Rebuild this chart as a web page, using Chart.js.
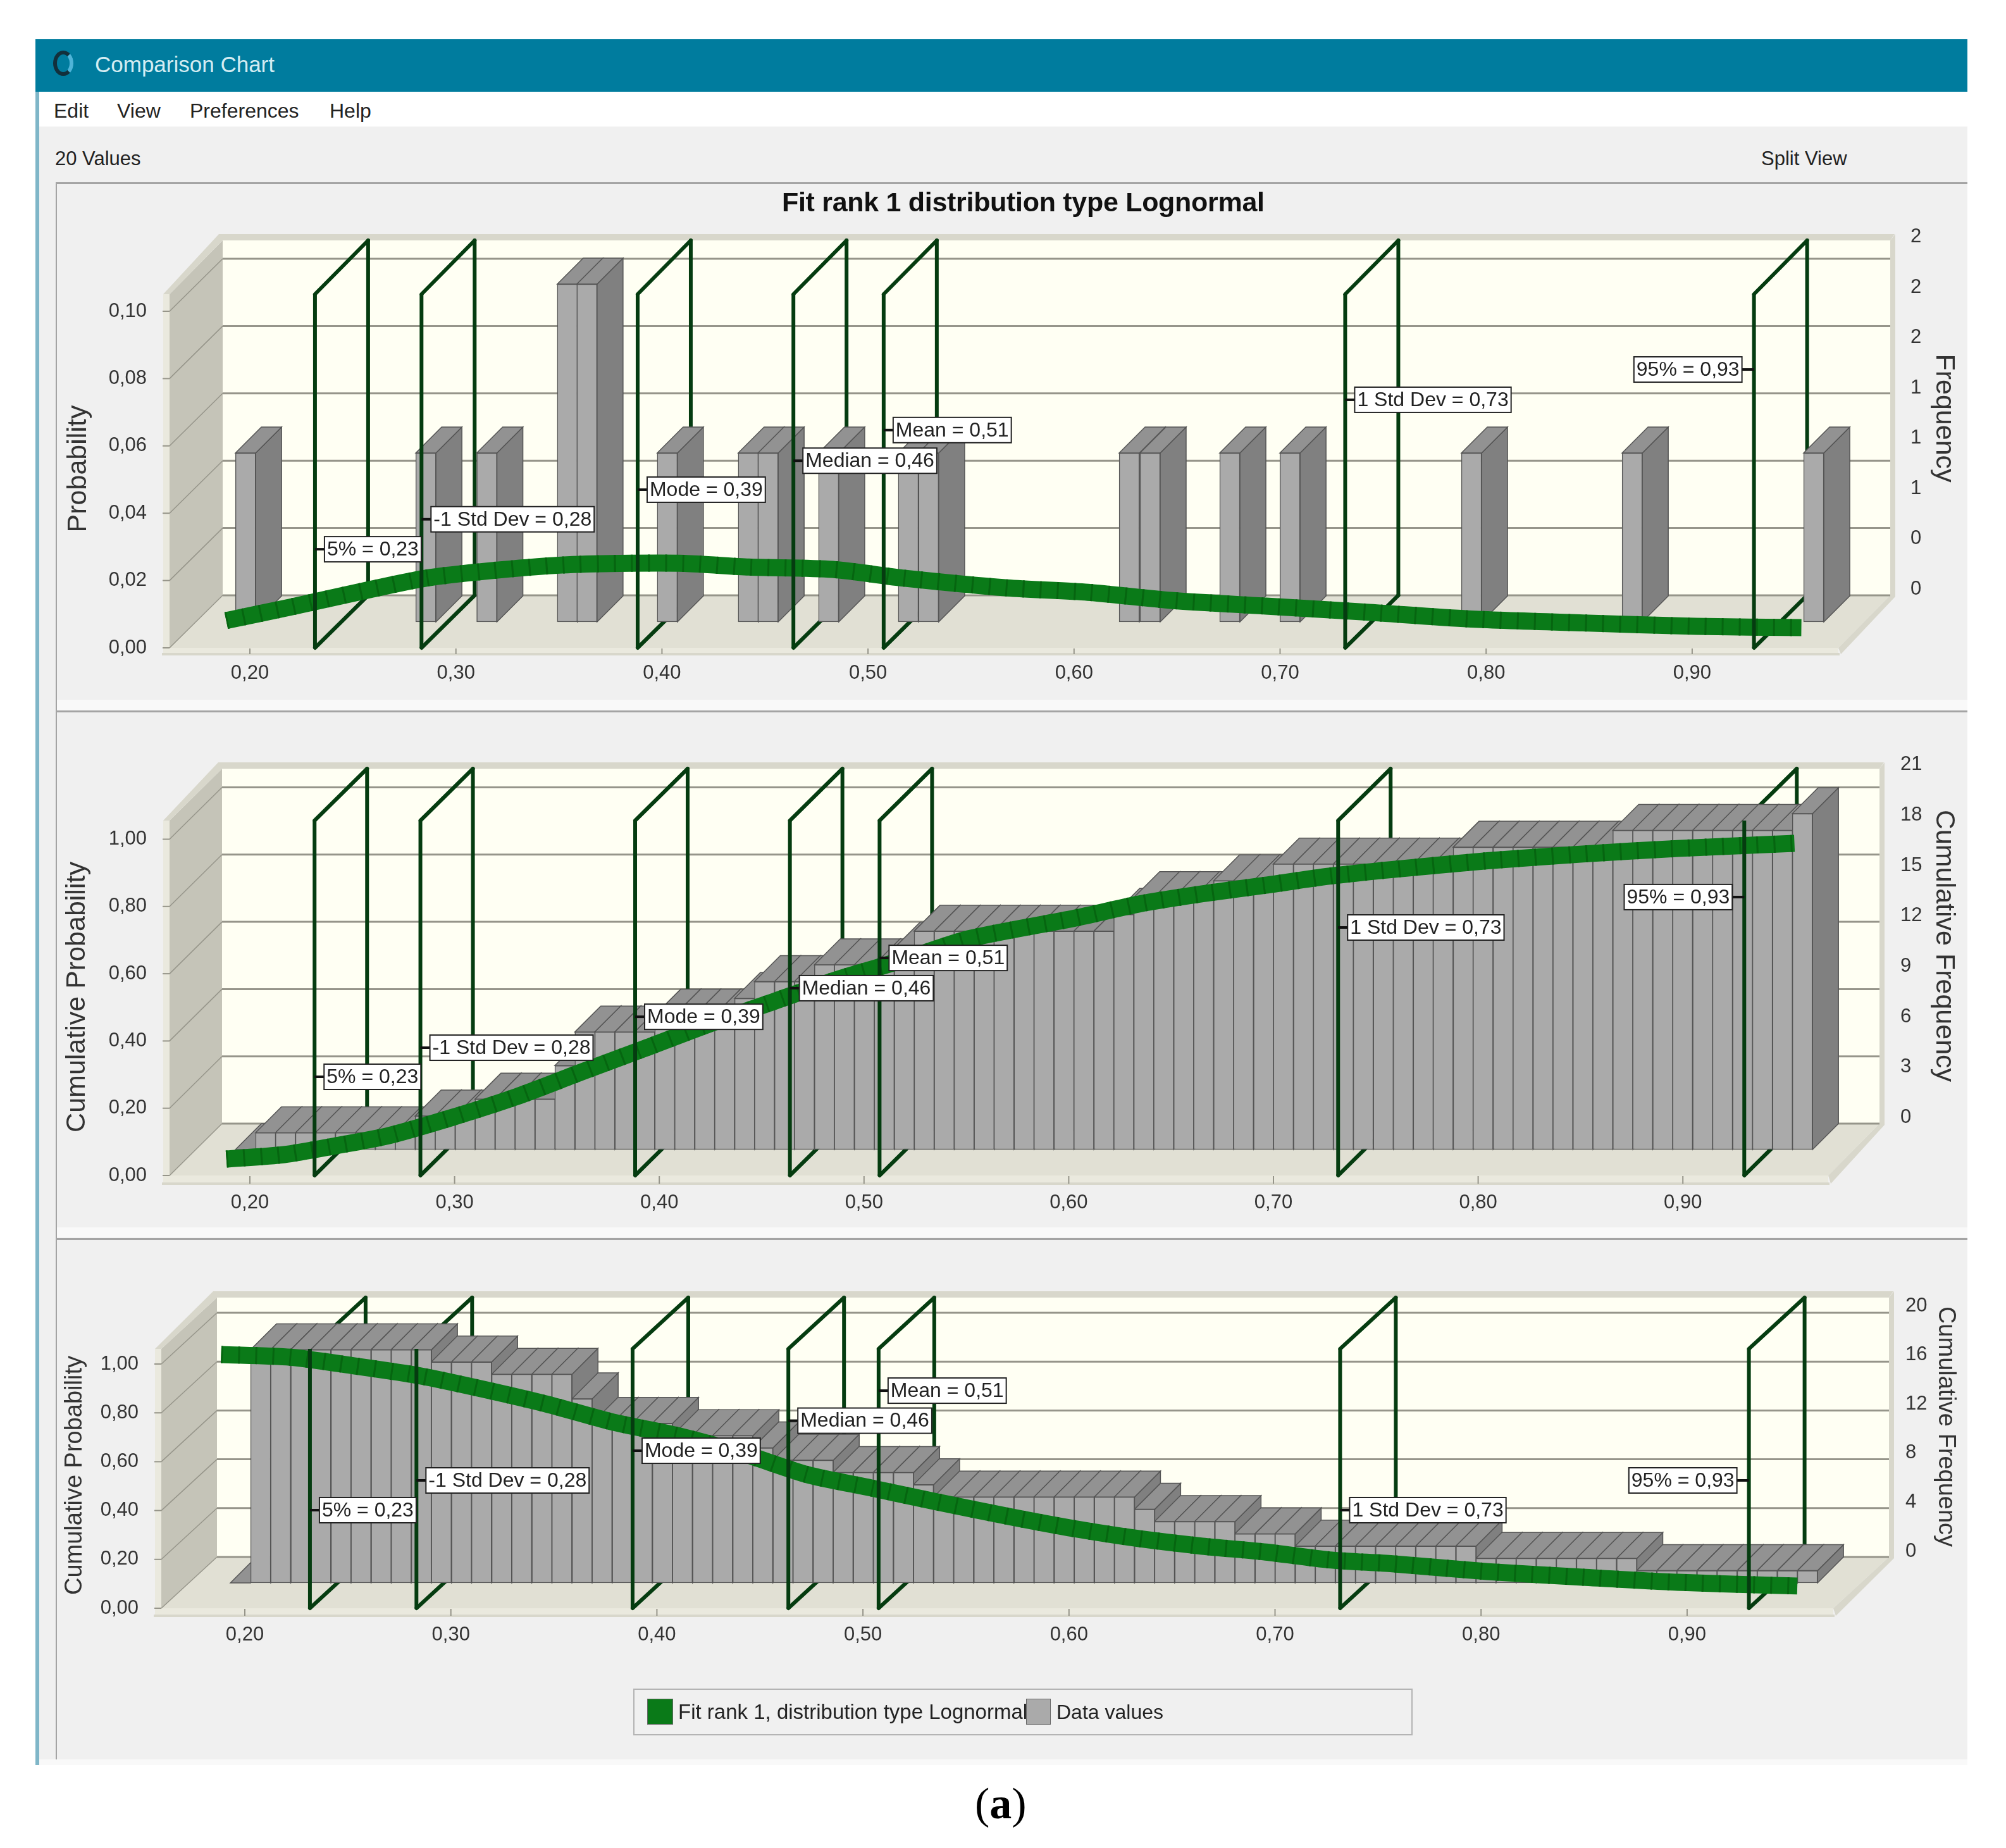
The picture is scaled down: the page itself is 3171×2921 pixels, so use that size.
<!DOCTYPE html>
<html>
<head>
<meta charset="utf-8">
<title>Comparison Chart</title>
<script src="https://cdn.jsdelivr.net/npm/chart.js@4/dist/chart.umd.js"></script>
<style>
  html, body { margin: 0; padding: 0; background: #fff; }
  #page { position: relative; width: 3171px; height: 2921px; overflow: hidden; font-family: 'Liberation Sans', sans-serif; color: #222; }
  #page > div, #page > canvas { position: absolute; }
  .txt { white-space: nowrap; line-height: 1; }
  .rule { background: #a4a4a4; }
  .band { background: #f9f9f9; }
</style>
</head>
<body>
<div id="page">
  <div style="left:56px;top:200px;width:3054px;height:2590px;background:#f0f0f0"></div>
  <div style="left:56px;top:62px;width:3054px;height:83px;background:#007c9e"></div>
  <div style="left:56px;top:145px;width:6px;height:2645px;background:#7fb6c8"></div>
  <div style="left:84px;top:80px;width:32px;height:40px;border-radius:50%;border:6px solid #12303c;border-right-color:#4fb4d8;box-sizing:border-box"></div>
  <div class="txt" style="left:150px;top:84px;font-size:35px;color:#d4ecf2">Comparison Chart</div>
  <div class="txt" style="left:85px;top:159px;font-size:32px">Edit</div>
  <div class="txt" style="left:185px;top:159px;font-size:32px">View</div>
  <div class="txt" style="left:300px;top:159px;font-size:32px">Preferences</div>
  <div class="txt" style="left:521px;top:159px;font-size:32px">Help</div>
  <div class="txt" style="left:87px;top:235px;font-size:31px">20 Values</div>
  <div class="txt" style="left:2784px;top:235px;font-size:31px">Split View</div>
  <div class="band" style="left:62px;top:2781px;width:3048px;height:9px"></div>
  <div class="band" style="left:88px;top:1106px;width:3022px;height:16px"></div>
  <div class="band" style="left:88px;top:1940px;width:3022px;height:16px"></div>
  <div class="rule" style="left:88px;top:288px;width:3022px;height:3px"></div>
  <div class="rule" style="left:88px;top:1123px;width:3022px;height:3px"></div>
  <div class="rule" style="left:88px;top:1957px;width:3022px;height:3px"></div>
  <div class="rule" style="left:88px;top:288px;width:2px;height:2493px"></div>
  <canvas id="panelPdf"></canvas>
  <canvas id="panelCdf"></canvas>
  <canvas id="panelSf"></canvas>
  <div class="txt" style="left:1236px;top:298px;font-size:43px;font-weight:700;color:#111;letter-spacing:-0.3px">Fit rank 1 distribution type Lognormal</div>
  <div style="left:1001px;top:2669px;width:1232px;height:74px;border:2px solid #b4b4b4;box-sizing:border-box"></div>
  <div style="left:1023px;top:2685px;width:41px;height:41px;background:#0a7a18;border:1px solid #666;box-sizing:border-box"></div>
  <div class="txt" style="left:1072px;top:2689px;font-size:33px">Fit rank 1, distribution type Lognormal</div>
  <div style="left:1622px;top:2685px;width:39px;height:41px;background:#aaa;border:1px solid #666;box-sizing:border-box"></div>
  <div class="txt" style="left:1670px;top:2690px;font-size:32px">Data values</div>
  <div class="txt" style="left:1541px;top:2816px;font-size:70px;font-family:'Liberation Serif',serif;color:#000">(<b>a</b>)</div>
</div>
<script>
// axis ticks
const xTicks = [0.2, 0.3, 0.4, 0.5, 0.6, 0.7, 0.8, 0.9];
const pdfTicks = [0, 0.02, 0.04, 0.06, 0.08, 0.1];
const cumTicks = [0, 0.2, 0.4, 0.6, 0.8, 1];
const freqTicks = [0, 0.3, 0.6, 0.9, 1.2, 1.5, 1.8, 2.1];
const cumFreqTicks = [0, 3, 6, 9, 12, 15, 18, 21];
const revFreqTicks = [0, 4, 8, 12, 16, 20];

// histogram bars, top panel
const histX = [0.1979, 0.2854, 0.315, 0.3541, 0.3636, 0.4026, 0.4419, 0.4515, 0.4809, 0.5196, 0.5294, 0.6268, 0.6369, 0.6756, 0.7048, 0.7929, 0.8709, 0.959];
const histY = [1, 1, 1, 2, 2, 1, 1, 1, 1, 1, 1, 1, 1, 1, 1, 1, 1, 1];

// bins of the cumulative panels
const binX = [
  0.1979, 0.2077, 0.2174, 0.2272, 0.2369, 0.2467, 0.2564, 0.2662, 0.2759, 0.2857,
  0.2954, 0.3052, 0.3149, 0.3247, 0.3344, 0.3442, 0.3539, 0.3637, 0.3734, 0.3832,
  0.3929, 0.4027, 0.4124, 0.4222, 0.4319, 0.4417, 0.4514, 0.4612, 0.4709, 0.4807,
  0.4904, 0.5002, 0.5099, 0.5197, 0.5294, 0.5392, 0.5489, 0.5587, 0.5684, 0.5782,
  0.5879, 0.5977, 0.6074, 0.6172, 0.6269, 0.6367, 0.6464, 0.6562, 0.6659, 0.6757,
  0.6854, 0.6952, 0.7049, 0.7147, 0.7244, 0.7342, 0.7439, 0.7537, 0.7634, 0.7732,
  0.7829, 0.7927, 0.8024, 0.8122, 0.8219, 0.8317, 0.8414, 0.8512, 0.8609, 0.8707,
  0.8804, 0.8902, 0.8999, 0.9097, 0.9194, 0.9292, 0.9389, 0.9487, 0.9584,
];
const cumY = [
  0, 1, 1, 1, 1, 1, 1, 1, 1, 2,
  2, 2, 3, 3, 3, 3, 5, 7, 7, 7,
  7, 8, 8, 8, 8, 9, 10, 10, 10, 11,
  11, 11, 11, 12, 13, 13, 13, 13, 13, 13,
  13, 13, 13, 13, 14, 15, 15, 15, 15, 16,
  16, 16, 17, 17, 17, 17, 17, 17, 17, 17,
  17, 18, 18, 18, 18, 18, 18, 18, 18, 19,
  19, 19, 19, 19, 19, 19, 19, 19, 20,
];
const revY = [
  0, 19, 19, 19, 19, 19, 19, 19, 19, 19,
  18, 18, 18, 17, 17, 17, 17, 15, 13, 13,
  13, 13, 12, 12, 12, 12, 11, 10, 10, 10,
  9, 9, 9, 9, 8, 7, 7, 7, 7, 7,
  7, 7, 7, 7, 7, 6, 5, 5, 5, 5,
  4, 4, 4, 3, 3, 3, 3, 3, 3, 3,
  3, 3, 2, 2, 2, 2, 2, 2, 2, 2,
  1, 1, 1, 1, 1, 1, 1, 1, 1,
];

// fitted lognormal curves
const pdfX = [0.1885, 0.2197, 0.2574, 0.2854, 0.3167, 0.3514, 0.3796, 0.4109, 0.4422, 0.4828, 0.5175, 0.5675, 0.6068, 0.6469, 0.6931, 0.7422, 0.7913, 0.8469, 0.9022, 0.953];
const pdfY = [0.0081, 0.0121, 0.0172, 0.0207, 0.0229, 0.0246, 0.0251, 0.0251, 0.024, 0.0233, 0.0207, 0.0178, 0.0165, 0.0141, 0.0124, 0.0106, 0.0086, 0.0074, 0.0064, 0.006];
const cdfX = [0.1885, 0.2167, 0.242, 0.2671, 0.2986, 0.3301, 0.3616, 0.3931, 0.4247, 0.4562, 0.488, 0.5195, 0.551, 0.6033, 0.6342, 0.6653, 0.6963, 0.7272, 0.7581, 0.8046, 0.8511, 0.8975, 0.9545];
const cdfY = [0.0489, 0.0621, 0.0884, 0.1174, 0.1722, 0.234, 0.3067, 0.3785, 0.4512, 0.518, 0.585, 0.6416, 0.7037, 0.7657, 0.8072, 0.8377, 0.8633, 0.89, 0.91, 0.936, 0.956, 0.9725, 0.9877];
const sfX = [0.1885, 0.2221, 0.2534, 0.2847, 0.3161, 0.3474, 0.3787, 0.41, 0.4413, 0.473, 0.5043, 0.5356, 0.5724, 0.6031, 0.6338, 0.6647, 0.6956, 0.7262, 0.757, 0.8032, 0.8494, 0.8955, 0.9535];
const sfY = [1.039, 1.028, 0.992, 0.952, 0.896, 0.834, 0.762, 0.707, 0.635, 0.547, 0.492, 0.436, 0.373, 0.325, 0.285, 0.254, 0.23, 0.198, 0.182, 0.15, 0.127, 0.106, 0.091];

// marker frames
const markerX = [0.2316, 0.2833, 0.3882, 0.4638, 0.5076, 0.7316, 0.93];
const markerText = ['5% = 0,23', '-1 Std Dev = 0,28', 'Mode = 0,39', 'Median = 0,46', 'Mean = 0,51', '1 Std Dev = 0,73', '95% = 0,93'];
const pdfLabelY = [0.0293, 0.0382, 0.047, 0.0556, 0.0647, 0.0737, 0.0827];
const cdfLabelY = [0.2935, 0.38, 0.472, 0.557, 0.647, 0.7375, 0.828];
const sfLabelY = [0.4016, 0.5233, 0.645, 0.768, 0.891, 0.4016, 0.5233];

const COLORS = {
  backWall: '#fffff3',
  sideWall: '#c5c4b8',
  floor: '#e1e0d4',
  rim: '#d8d7cb',
  slab: '#eae9de',
  grid: '#96958a',
  barFront: '#aaaaaa',
  barSide: '#808080',
  barTop: '#929292',
  barEdge: '#555555',
  curve: '#0a7a18',
  curveDark: '#066510',
  marker: '#053c10',
  text: '#333333',
};
const FONT = 'Liberation Sans';
const PAGE_W = 3171;

// pixel calibration of each panel (window coordinates)
const PDF_LAYOUT = {
  canvas: 'panelPdf', canvasTop: 289, canvasH: 825,
  left: 268, right: 2988, top: 370, bottom: 1034, frontRight: 2906,
  backTop: 380, wallTop: 465, depthX: 84, depthY: 83,
  xPx: 395, xPer: 3257, probPx: 1024, probPer: 5320, barPx: 983, barPer: 267, freqPx: 931, freqPer: 265,
  leftTitle: 'Probability', leftX: 124, leftY: 741, rightTitle: 'Frequency', rightX: 3073, rightY: 661, titleSize: 43,
  rightPad: 24,
};
const CDF_LAYOUT = {
  canvas: 'panelCdf', canvasTop: 1124, canvasH: 821,
  left: 268, right: 2971, top: 1200, bottom: 1871, frontRight: 2890,
  backTop: 1215, wallTop: 1297, depthX: 83, depthY: 82,
  xPx: 395, xPer: 3236, probPx: 1858, probPer: 531.5, barPx: 1817, barPer: 26.55, freqPx: 1766.5, freqPer: 26.56,
  leftTitle: 'Cumulative Probability', leftX: 122, leftY: 1576, rightTitle: 'Cumulative Frequency', rightX: 3073, rightY: 1495, titleSize: 43,
  rightPad: 25,
};
const SF_LAYOUT = {
  canvas: 'panelSf', canvasTop: 1958, canvasH: 823,
  left: 255, right: 2986, top: 2040, bottom: 2554, frontRight: 2898,
  backTop: 2051, wallTop: 2132, depthX: 88, depthY: 81,
  xPx: 387, xPer: 3257, probPx: 2542, probPer: 386, barPx: 2502, barPer: 19.4, freqPx: 2452, freqPer: 19.4,
  leftTitle: 'Cumulative Probability', leftX: 119, leftY: 2332, rightTitle: 'Cumulative Frequency', rightX: 3075, rightY: 2255, titleSize: 38,
  rightPad: 18,
};

function poly(ctx, pts, fill, stroke, width) {
  ctx.beginPath();
  pts.forEach((p, i) => (i ? ctx.lineTo(p[0], p[1]) : ctx.moveTo(p[0], p[1])));
  ctx.closePath();
  if (fill) { ctx.fillStyle = fill; ctx.fill(); }
  if (stroke) { ctx.strokeStyle = stroke; ctx.lineWidth = width || 1; ctx.stroke(); }
}

function seg(ctx, x0, y0, x1, y1, color, width) {
  ctx.beginPath();
  ctx.moveTo(x0, y0);
  ctx.lineTo(x1, y1);
  ctx.strokeStyle = color;
  ctx.lineWidth = width;
  ctx.stroke();
}

function rotated(ctx, text, x, y, angle, size) {
  ctx.save();
  ctx.translate(x, y);
  ctx.rotate(angle);
  ctx.font = size + 'px "' + FONT + '"';
  ctx.fillStyle = COLORS.text;
  ctx.textAlign = 'center';
  ctx.textBaseline = 'middle';
  ctx.fillText(text, 0, 0);
  ctx.restore();
}

// walls, floor and back grid of the fake 3D box
function depthPlugin(layout, ticks, labelY) {
  const off = layout.canvasTop;
  const dx = layout.depthX;
  const dy = layout.depthY;
  return {
    id: 'depthBox',
    beforeDatasetsDraw(chart) {
      const { ctx, scales } = chart;
      const floorY = scales.y.getPixelForValue(0);
      const L = layout.left;
      const R = layout.right;
      const FR = layout.frontRight;
      const backL = L + dx;
      const backTop = layout.backTop - off;
      const wallTop = layout.wallTop - off;
      const axisY = layout.bottom - off;
      ctx.save();
      ctx.fillStyle = COLORS.backWall;
      ctx.fillRect(backL, backTop, R - backL, floorY - dy - backTop);
      poly(ctx, [[L, wallTop], [backL, backTop], [backL, floorY - dy], [L, floorY]], COLORS.sideWall);
      poly(ctx, [[L - 10, wallTop], [backL - 6, backTop - 10], [R + 7, backTop - 10], [R, backTop], [backL, backTop], [L, wallTop]], COLORS.rim);
      poly(ctx, [[L, floorY], [FR, floorY], [R, floorY - dy], [backL, floorY - dy]], COLORS.floor);
      poly(ctx, [[R, backTop], [R + 8, backTop - 10], [R + 8, floorY - dy + 2], [FR + 4, axisY], [FR, floorY], [R, floorY - dy]], COLORS.rim);
      ctx.fillStyle = COLORS.slab;
      ctx.fillRect(L - 10, wallTop, 10, axisY - wallTop);
      ctx.fillRect(L, floorY, FR - L, axisY - floorY);
      seg(ctx, L - 12, axisY, FR + 2, axisY, COLORS.rim, 4);
      ticks.forEach((t) => {
        const py = scales.y.getPixelForValue(t);
        seg(ctx, L, py, backL, py - dy, COLORS.grid, 1.5);
        seg(ctx, backL, py - dy, R, py - dy, COLORS.grid, 3);
        seg(ctx, L - 11, py, L, py, COLORS.grid, 2);
      });
      xTicks.forEach((t) => {
        const px = scales.x.getPixelForValue(t);
        seg(ctx, px, floorY + 1, px, axisY, COLORS.grid, 2);
      });
      // far side of the marker frames sits behind the bars
      markerX.forEach((m) => {
        const px = scales.x.getPixelForValue(m);
        ctx.lineCap = 'round';
        seg(ctx, px, floorY, px + dx, floorY - dy, COLORS.marker, 6);
        seg(ctx, px + dx, floorY - dy, px + dx, backTop, COLORS.marker, 6);
        seg(ctx, px + dx, backTop, px, wallTop, COLORS.marker, 6);
      });
      ctx.restore();
    },
    beforeDatasetDraw(chart, args) {
      if (chart.data.datasets[args.index].type !== 'bar') return;
      const { ctx } = chart;
      const d = 41;
      ctx.save();
      args.meta.data.forEach((bar) => {
        const halfW = bar.width / 2;
        const l = bar.x - halfW;
        const r = bar.x + halfW;
        poly(ctx, [[r, bar.y], [r + d, bar.y - d], [r + d, bar.base - d], [r, bar.base]], COLORS.barSide, COLORS.barEdge, 1.5);
        poly(ctx, [[l, bar.y], [l + d, bar.y - d], [r + d, bar.y - d], [r, bar.y]], COLORS.barTop, COLORS.barEdge, 1.5);
      });
      ctx.restore();
    },
    afterDatasetsDraw(chart) {
      const { ctx, scales } = chart;
      const floorY = scales.y.getPixelForValue(0);
      const wallTop = layout.wallTop - off;
      ctx.save();
      ctx.font = '32px "' + FONT + '"';
      ctx.textBaseline = 'middle';
      markerX.forEach((m) => {
        const px = scales.x.getPixelForValue(m);
        seg(ctx, px, floorY, px, wallTop, COLORS.marker, 6);
      });
      markerX.forEach((m, i) => {
        const px = scales.x.getPixelForValue(m);
        const py = scales.y.getPixelForValue(labelY[i]);
        const w = ctx.measureText(markerText[i]).width + 8;
        const toLeft = i === markerX.length - 1;
        const bx = toLeft ? px - 19 - w : px + 15;
        seg(ctx, px, py, toLeft ? px - 19 : px + 15, py, '#111', 4);
        ctx.fillStyle = '#fff';
        ctx.fillRect(bx, py - 20, w, 40);
        ctx.strokeStyle = '#222';
        ctx.lineWidth = 2;
        ctx.strokeRect(bx, py - 20, w, 40);
        ctx.fillStyle = '#222';
        ctx.fillText(markerText[i], bx + 4, py + 1);
      });
      rotated(ctx, layout.leftTitle, layout.leftX, layout.leftY - off, -Math.PI / 2, layout.titleSize);
      rotated(ctx, layout.rightTitle, layout.rightX, layout.rightY - off, Math.PI / 2, layout.titleSize);
      ctx.restore();
    },
  };
}

function commaLabel(v) {
  return v.toFixed(2).replace('.', ',');
}

function renderPanel(layout, barX, barY, curveX, curveY, probTicks, rightTicks, labelY) {
  const off = layout.canvasTop;
  const canvas = document.getElementById(layout.canvas);
  canvas.width = PAGE_W;
  canvas.height = layout.canvasH;
  canvas.style.left = '0px';
  canvas.style.top = off + 'px';
  canvas.style.width = PAGE_W + 'px';
  canvas.style.height = layout.canvasH + 'px';

  const xAt = (px) => 0.2 + (px - layout.xPx) / layout.xPer;
  const valueAt = (px, zeroPx, per) => (zeroPx - px) / per;
  const curvePoints = curveX.map((x, i) => ({ x, y: curveY[i] }));
  const tickFont = { family: FONT, size: 31 };

  new Chart(canvas, {
    type: 'bar',
    data: {
      datasets: [
        {
          type: 'line',
          label: 'Fit rank 1, distribution type Lognormal',
          data: curvePoints,
          yAxisID: 'y',
          borderColor: COLORS.curveDark,
          borderWidth: 27,
          borderDash: [3, 24],
          tension: 0.25,
          pointRadius: 0,
          order: 1,
        },
        {
          type: 'line',
          label: 'Fit rank 1, distribution type Lognormal',
          data: curvePoints,
          yAxisID: 'y',
          borderColor: COLORS.curve,
          borderWidth: 27,
          tension: 0.25,
          pointRadius: 0,
          order: 2,
        },
        {
          type: 'bar',
          label: 'Data values',
          data: barX.map((x, i) => ({ x, y: barY[i] })),
          yAxisID: 'yBar',
          backgroundColor: COLORS.barFront,
          borderColor: COLORS.barEdge,
          borderWidth: 1.5,
          borderSkipped: false,
          barThickness: 32,
          order: 3,
        },
      ],
    },
    options: {
      responsive: false,
      devicePixelRatio: 1,
      animation: false,
      layout: { padding: { top: layout.top - off, left: 0, right: 0, bottom: 0 } },
      plugins: { legend: { display: false }, tooltip: { enabled: false } },
      scales: {
        x: {
          type: 'linear',
          offset: false,
          min: xAt(layout.left),
          max: xAt(layout.right),
          grid: { display: false },
          border: { display: false },
          afterBuildTicks: (s) => { s.ticks = xTicks.map((value) => ({ value })); },
          afterFit: (s) => { s.height = layout.canvasH - (layout.bottom - off); },
          ticks: { color: COLORS.text, font: tickFont, padding: 4, maxRotation: 0, autoSkip: false, includeBounds: false, callback: commaLabel },
        },
        y: {
          position: 'left',
          min: valueAt(layout.bottom, layout.probPx, layout.probPer),
          max: valueAt(layout.top, layout.probPx, layout.probPer),
          grid: { display: false },
          border: { display: false },
          afterBuildTicks: (s) => { s.ticks = probTicks.map((value) => ({ value })); },
          afterFit: (s) => { s.width = layout.left; },
          ticks: { color: COLORS.text, font: tickFont, padding: 28, autoSkip: false, includeBounds: false, callback: commaLabel },
        },
        yFreq: {
          position: 'right',
          min: valueAt(layout.bottom, layout.freqPx, layout.freqPer),
          max: valueAt(layout.top, layout.freqPx, layout.freqPer),
          grid: { display: false },
          border: { display: false },
          afterBuildTicks: (s) => { s.ticks = rightTicks.map((value) => ({ value })); },
          afterFit: (s) => { s.width = PAGE_W - layout.right; },
          ticks: { color: COLORS.text, font: tickFont, padding: layout.rightPad, autoSkip: false, includeBounds: false, callback: (v) => String(Math.round(v)) },
        },
        yBar: {
          display: false,
          min: valueAt(layout.bottom, layout.barPx, layout.barPer),
          max: valueAt(layout.top, layout.barPx, layout.barPer),
        },
      },
    },
    plugins: [depthPlugin(layout, probTicks, labelY)],
  });
}

document.addEventListener('DOMContentLoaded', () => {
  renderPanel(PDF_LAYOUT, histX, histY, pdfX, pdfY, pdfTicks, freqTicks, pdfLabelY);
  renderPanel(CDF_LAYOUT, binX, cumY, cdfX, cdfY, cumTicks, cumFreqTicks, cdfLabelY);
  renderPanel(SF_LAYOUT, binX, revY, sfX, sfY, cumTicks, revFreqTicks, sfLabelY);
});
</script>
</body>
</html>
